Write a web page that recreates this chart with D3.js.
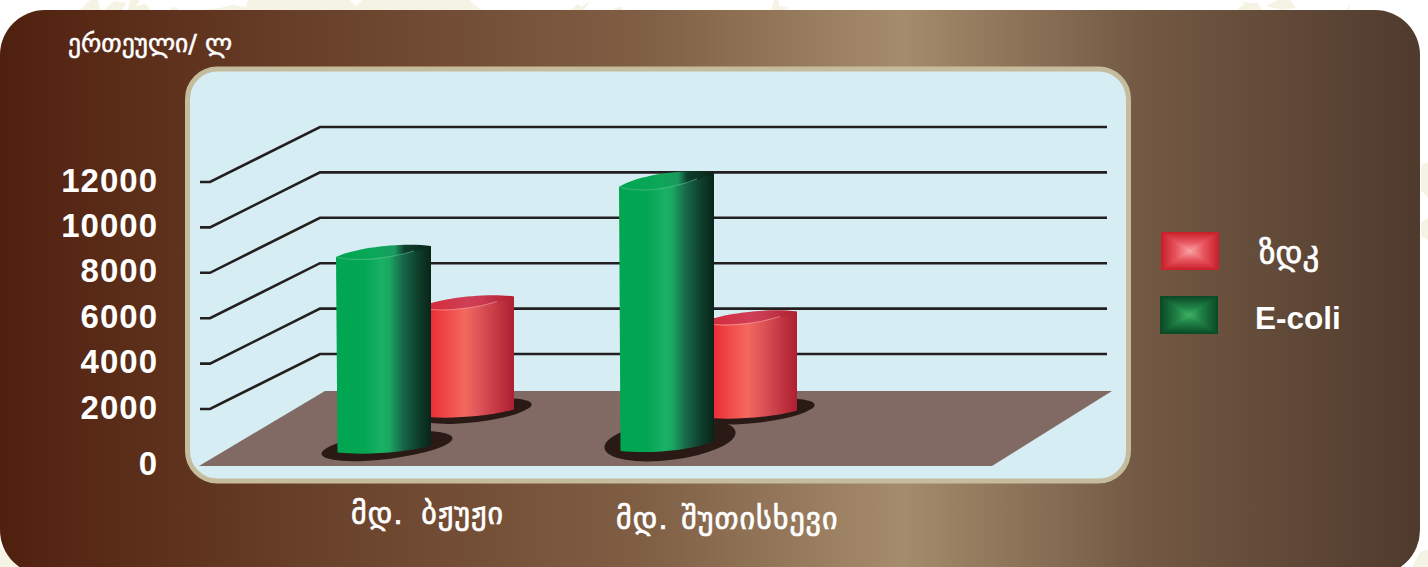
<!DOCTYPE html>
<html>
<head>
<meta charset="utf-8">
<style>
  html, body { margin: 0; padding: 0; background: #fff; }
  svg { display: block; }
  text { fill: #fff; }
</style>
<script src="https://cdn.jsdelivr.net/npm/d3@7"></script>
</head>
<body>
<svg id="chart" width="1428" height="567"></svg>
<script>
// River names along the horizontal axis
const rivers = ["მდ. ბჟუჟი", "მდ. შუთისხევი"];
// Units per litre for each river
const eColiValues = [8700, 11730];
const zdkValues = [4890, 4270];
// Vertical axis
const tickValues = [0, 2000, 4000, 6000, 8000, 10000, 12000];
const tickLabels = ["0", "2000", "4000", "6000", "8000", "10000", "12000"];
const unitLabel = "ერთეული/ ლ";
const legendLabels = ["ზდკ", "E-coli"];

const svg = d3.select("#chart");
const defs = svg.append("defs");

function linear(id, stops) {
  const g = defs.append("linearGradient").attr("id", id)
    .attr("x1", 0).attr("x2", 1).attr("y1", 0).attr("y2", 0);
  stops.forEach(([o, c]) => g.append("stop").attr("offset", o).attr("stop-color", c));
}

linear("panelFill", [[0, "#50200e"], [0.24, "#6b432c"], [0.45, "#7f5e44"], [0.635, "#a58c6c"], [0.8, "#745a44"], [1, "#4f3a2d"]]);
linear("greenBody", [[0, "#00a651"], [0.3, "#03a653"], [0.48, "#1ab166"], [0.56, "#1ba862"], [0.7, "#17694a"], [0.88, "#0e3b29"], [1, "#082418"]]);
linear("redBody", [[0, "#ec2d38"], [0.13, "#ec2d38"], [0.3, "#ef4c49"], [0.48, "#f4685e"], [0.62, "#e05659"], [0.82, "#c33843"], [1, "#ae1f31"]]);
linear("greenCap", [[0, "#00a651"], [0.45, "#0da659"], [0.62, "#1a9a60"], [0.72, "#0e3f2c"], [1, "#082418"]]);
linear("redCap", [[0, "#d62532"], [0.5, "#cf3f56"], [0.66, "#c93a50"], [1, "#b01e2e"]]);

// Faint ornament of the page behind the card
const ornament = svg.append("g").attr("fill", "#f5f3e4");
[
  "M80,10L90,0L98,0L100,10Z",
  "M104,10L114,1L126,3L122,10Z",
  "M130,0L140,0L136,6L146,4L150,10L128,10Z",
  "M170,10L172,7L177,8L178,10Z",
  "M200,10L220,8L232,5L246,7L248,0L350,0L356,6L362,0L470,0L476,6L482,10Z",
  "M570,10L578,4L581,7L590,1L584,10Z",
  "M614,8L622,7L623,10L616,11Z",
  "M771,10L774,0L778,0L781,10Z",
  "M780,10L781,6L789,8L783,10Z",
  "M1237,10L1245,3L1240,0L1250,3L1258,3L1262,10Z",
  "M1266,6L1278,0L1290,0L1296,8L1282,10Z",
  "M1346,10L1350,4L1349,10Z",
  "M1421,165L1428,162L1428,198L1421,190Z",
  "M1421,222L1428,218L1428,240L1421,236Z",
  "M0,548L8,552L20,567L0,567Z",
  "M1412,567L1420,552L1428,550L1428,567Z"
].forEach(d => ornament.append("path").attr("d", d));

// Outer brown card and pale inner frame
svg.append("rect")
  .attr("x", 0).attr("y", 10).attr("width", 1420).attr("height", 565).attr("rx", 45)
  .attr("fill", "url(#panelFill)");
svg.append("rect")
  .attr("x", 187.5).attr("y", 69).attr("width", 941).attr("height", 412).attr("rx", 30)
  .attr("fill", "#d5edf3").attr("stroke", "#c5bc9d").attr("stroke-width", 5);

// One value unit in pixels on the front plane of the chart box
const heightScale = d3.scaleLinear().domain([0, 2000]).range([0, 45.4]);
const frontY = d3.scaleLinear().domain([0, 2000]).range([454.4, 409]);
const depthX = 110, depthY = 55;
const gridLeft = 210, gridRight = 1107;

svg.append("g").selectAll("path").data(tickValues.filter(v => v > 0)).join("path")
  .attr("d", v => {
    const y = frontY(v);
    return `M${gridLeft - 10},${y}H${gridLeft}L${gridLeft + depthX},${y - depthY}H${gridRight}`;
  })
  .attr("fill", "none").attr("stroke", "#231f20").attr("stroke-width", 2.6);

// Floor of the chart box
svg.append("path")
  .attr("d", "M199,466L325,391H1112L992,466Z")
  .attr("fill", "#816a63");

// Bar layout: one step per river; the red cylinder stands partly behind the green one
const groupX = d3.scaleBand().domain(rivers).range([336, 902]);
const bars = {
  green: { left: 0, width: 95, base: [454.5, 453], tilt: [11, 14], fill: "url(#greenBody)", cap: "url(#greenCap)", lip: "#5fc28f" },
  red: { left: 83, width: 95, base: [418.5, 419.5], tilt: [11, 11], fill: "url(#redBody)", cap: "url(#redCap)", lip: "#f6a3a3" }
};

// Cylinder with a tilted top and bottom, drawn from its value
function drawCylinder(g, x, h, spec, i) {
  const w = spec.width, b = spec.base[i], t = b - h, tilt = spec.tilt[i];
  const body =
    `M${x},${t}L${x + 1.5},${b - 2}` +
    `C${x + w * 0.3},${b + 1} ${x + w * 0.75},${b - 2} ${x + w},${b - tilt + 2}` +
    `L${x + w},${t - tilt}Z`;
  g.append("path").attr("d", body).attr("fill", spec.fill);
  const cap =
    `M${x},${t}C${x + w * 0.2},${t - tilt * 0.85} ${x + w * 0.7},${t - tilt * 1.35} ${x + w},${t - tilt}` +
    `C${x + w * 0.8},${t - tilt * 0.15} ${x + w * 0.25},${t + tilt * 0.5} ${x},${t}Z`;
  g.append("path").attr("d", cap).attr("fill", spec.cap);
  g.append("path")
    .attr("d", `M${x + 1},${t + 0.5}C${x + w * 0.25},${t + tilt * 0.5} ${x + w * 0.6},${t + tilt * 0.05} ${x + w * 0.82},${t - tilt * 0.55}`)
    .attr("fill", "none").attr("stroke", spec.lip).attr("stroke-width", 1.1).attr("opacity", 0.6);
}

// Contact shadows, rotated with the floor
function shadow(g, cx, cy, rx, ry) {
  g.append("ellipse")
    .attr("cx", 0).attr("cy", 0).attr("rx", rx).attr("ry", ry)
    .attr("transform", `translate(${cx},${cy}) rotate(-7)`)
    .attr("fill", "#2a1a16");
}

const barsG = svg.append("g");
rivers.forEach((r, i) => {
  const x0 = groupX(r);
  const redX = x0 + bars.red.left, greenX = x0 + bars.green.left;
  shadow(barsG, redX + 57, 411 + i * 0.5, 56, 11);
  drawCylinder(barsG, redX, heightScale(zdkValues[i]), bars.red, i);
  if (i === 0) shadow(barsG, greenX + 51, 446, 66, 13);
  else shadow(barsG, greenX + 51, 440, 66, 20);
  drawCylinder(barsG, greenX, heightScale(eColiValues[i]), bars.green, i);
});

// Vertical axis labels; the zero sits at the floor's front edge
svg.append("g").selectAll("text").data(tickValues).join("text")
  .attr("x", 158)
  .attr("y", v => frontY(v) + (v === 0 ? 21 : 9.5))
  .attr("text-anchor", "end")
  .attr("font-family", "'Liberation Sans', Arial, sans-serif")
  .attr("font-weight", 700)
  .attr("font-size", 33)
  .attr("letter-spacing", 1)
  .text((v, i) => tickLabels[i]);

const georgianFont = "'DejaVu Sans', sans-serif";

// Georgian captions are slightly emboldened with a thin outline
function heavy(sel, w) {
  return sel.attr("stroke", "#fff").attr("stroke-width", w).attr("font-family", georgianFont);
}

heavy(svg.append("text"), 0.5)
  .attr("x", 68).attr("y", 52)
  .attr("font-size", 25.5)
  .text(unitLabel);

// River names under the frame
const riverLabelX = [351, 616], riverLabelY = [524, 529], riverWordGap = [7, 2];
heavy(svg.append("g").selectAll("text").data(rivers).join("text"), 0.7)
  .attr("x", (d, i) => riverLabelX[i]).attr("y", (d, i) => riverLabelY[i])
  .attr("font-size", 30)
  .attr("letter-spacing", 1)
  .attr("word-spacing", (d, i) => riverWordGap[i])
  .text(d => d);

// Legend swatches with a pyramid-style shading
function pyramid(x, y, w, h, edge, mid, centre) {
  const steps = d3.range(0, 1, 1 / 28);
  const colour = d3.scaleLinear().domain([0, 0.55, 1]).range([edge, mid, centre]);
  const g = svg.append("g");
  steps.forEach(f => {
    g.append("rect")
      .attr("x", x + w / 2 * f).attr("y", y + h / 2 * f)
      .attr("width", w * (1 - f)).attr("height", h * (1 - f))
      .attr("fill", colour(f));
  });
}
pyramid(1161, 232, 58, 38, "#c9202b", "#ea5a63", "#f8a8aa");
pyramid(1160, 296, 58, 38, "#0c4a26", "#1f7f45", "#3fb566");

const legendX = [1259, 1255], legendY = [264, 329];
legendLabels.forEach((t, i) => {
  const label = svg.append("text")
    .attr("x", legendX[i]).attr("y", legendY[i])
    .attr("font-size", i === 0 ? 33 : 31.5)
    .text(t);
  if (i === 0) heavy(label, 0.7);
  else label.attr("font-family", "'Liberation Sans', Arial, sans-serif").attr("font-weight", 700);
});
</script>
</body>
</html>
